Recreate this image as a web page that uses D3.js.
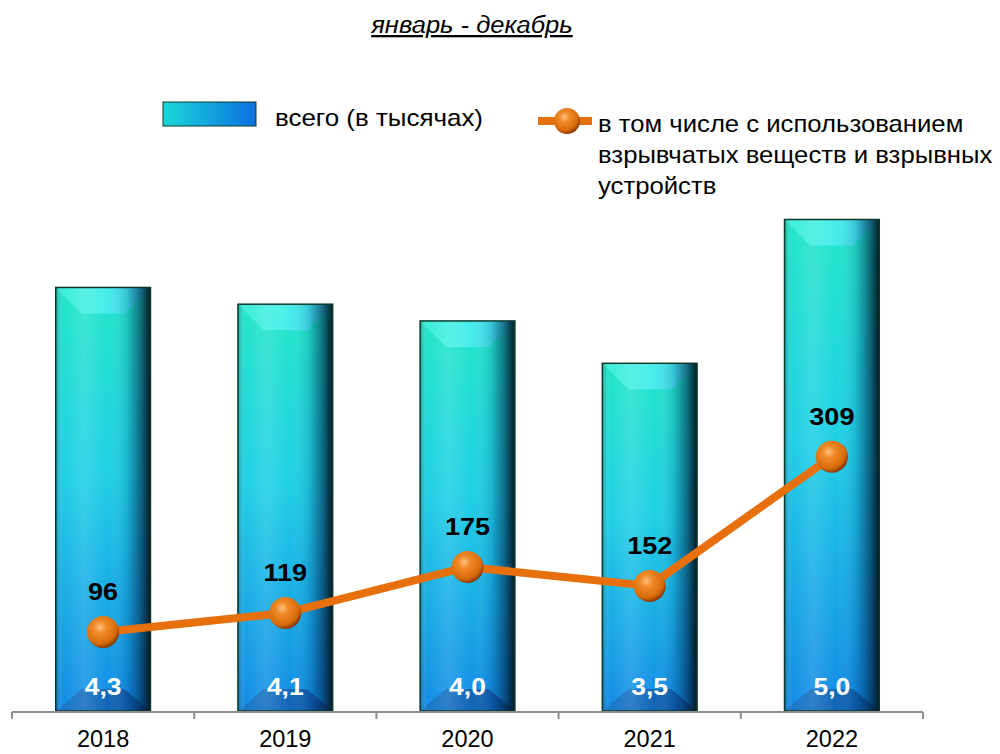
<!DOCTYPE html>
<html><head><meta charset="utf-8">
<script src="https://cdn.jsdelivr.net/npm/d3@7"></script>
<style>body{margin:0;background:#fff}svg{display:block}text{font-family:"Liberation Sans",Arial,sans-serif}</style>
</head><body><svg id="c" width="1000" height="754"></svg>
<script>
const years = ["2018","2019","2020","2021","2022"];
const totals = [4.30, 4.13, 3.96, 3.53, 4.99];
const totalLabels = ["4,3","4,1","4,0","3,5","5,0"];
const explosives = [96, 119, 175, 152, 309];
const title = "январь - декабрь";
const legendBar = "всего (в тысячах)";
const legendLine = ["в том числе с использованием","взрывчатых веществ и взрывных","устройств"];

const svg = d3.select("#c");
const defs = svg.append("defs");
const x = d3.scaleBand().domain(years).range([12, 923]).paddingInner(0.48).paddingOuter(0.24);
const xb = d3.scaleBand().domain(years).range([12, 923]);
const y = d3.scaleLinear().domain([0, 6]).range([711, 120]);
const y2 = d3.scaleLinear().domain([0, 718]).range([711, 120]);

function stretch(sel, k){ sel.each(function(){ const w=this.getComputedTextLength(); d3.select(this).attr("textLength", w*k).attr("lengthAdjust","spacingAndGlyphs"); }); return sel; }

// gradients
const gv = defs.append("linearGradient").attr("id","gv").attr("x1",0).attr("y1",0).attr("x2",0).attr("y2",1);
gv.append("stop").attr("offset","0%").attr("stop-color","#22e6c8");
gv.append("stop").attr("offset","45%").attr("stop-color","#1fcfe6");
gv.append("stop").attr("offset","100%").attr("stop-color","#128ae6");
const gh = defs.append("linearGradient").attr("id","gh").attr("x1",0).attr("y1",0).attr("x2",1).attr("y2",0);
[["0%","#003040",0.35],["8%","#ffffff",0.0],["30%","#ffffff",0.12],["55%","#ffffff",0.0],["75%","#003060",0.15],["90%","#002040",0.6],["100%","#001018",0.95]]
 .forEach(s=>gh.append("stop").attr("offset",s[0]).attr("stop-color",s[1]).attr("stop-opacity",s[2]));
const gt = defs.append("linearGradient").attr("id","gt").attr("x1",0).attr("y1",0).attr("x2",1).attr("y2",0);
gt.append("stop").attr("offset","0%").attr("stop-color","#3ef0d8");
gt.append("stop").attr("offset","50%").attr("stop-color","#50f0f0");
gt.append("stop").attr("offset","100%").attr("stop-color","#38c8f0");
const gb = defs.append("linearGradient").attr("id","gb").attr("x1",0).attr("y1",0).attr("x2",1).attr("y2",0);
gb.append("stop").attr("offset","0%").attr("stop-color","#1a78c8");
gb.append("stop").attr("offset","100%").attr("stop-color","#0a4a98");
const gl = defs.append("linearGradient").attr("id","gl").attr("x1",0).attr("y1",0).attr("x2",1).attr("y2",0);
gl.append("stop").attr("offset","0%").attr("stop-color","#1ad8d8");
gl.append("stop").attr("offset","100%").attr("stop-color","#0a70e0");
const gm = defs.append("radialGradient").attr("id","gm").attr("cx","40%").attr("cy","35%").attr("r","65%");
gm.append("stop").attr("offset","0%").attr("stop-color","#ffc080");
gm.append("stop").attr("offset","30%").attr("stop-color","#f08a28");
gm.append("stop").attr("offset","80%").attr("stop-color","#d86a08");
gm.append("stop").attr("offset","100%").attr("stop-color","#8a3a00");

// title
stretch(svg.append("text").attr("x",472).attr("y",33).attr("text-anchor","middle")
  .attr("font-size",23).attr("font-style","italic").attr("text-decoration","underline").text(title), 1.11);

// bars
const bw = x.bandwidth();
const g = svg.append("g");
years.forEach((yr,i)=>{
  const x0 = x(yr), x1 = x0 + bw, top = y(totals[i]), bot = y(0);
  const bev = 26;
  g.append("rect").attr("x",x0).attr("y",top).attr("width",bw).attr("height",bot-top).attr("fill","url(#gv)");
  g.append("path").attr("d",`M${x0},${top}L${x1},${top}L${x1-bev},${top+bev}L${x0+bev},${top+bev}Z`).attr("fill","url(#gt)").attr("opacity",0.85);
  g.append("path").attr("d",`M${x0},${bot}L${x1},${bot}L${x1-bev},${bot-bev+4}L${x0+bev},${bot-bev+4}Z`).attr("fill","url(#gb)").attr("opacity",0.85);
  g.append("rect").attr("x",x0).attr("y",top).attr("width",bw).attr("height",bot-top).attr("fill","url(#gh)");
  g.append("rect").attr("x",x0).attr("y",top).attr("width",bw).attr("height",bot-top).attr("fill","none").attr("stroke","#0c3a2a").attr("stroke-width",1.5);
  stretch(g.append("text").attr("x",x0+bw/2).attr("y",bot-16).attr("text-anchor","middle").attr("font-size",23).attr("font-weight","bold").attr("fill","#fff").text(totalLabels[i]), 1.15);
});

// axis
const ax = svg.append("g");
ax.append("line").attr("x1",12).attr("x2",923).attr("y1",712).attr("y2",712).attr("stroke","#8c8c8c").attr("stroke-width",2);
years.concat(["end"]).forEach((yr,i)=>{
  const tx = i < years.length ? xb(yr) : 923;
  ax.append("line").attr("x1",tx).attr("x2",tx).attr("y1",712).attr("y2",719).attr("stroke","#8c8c8c").attr("stroke-width",2);
});
years.forEach(yr=>{
  ax.append("text").attr("x",xb(yr)+xb.bandwidth()/2).attr("y",747).attr("text-anchor","middle").attr("font-size",23.5).attr("fill","#000").text(yr);
});

// line
const cx = i => x(years[i]) + bw/2;
svg.append("path").datum(explosives).attr("fill","none").attr("stroke","#e8700c").attr("stroke-width",8).attr("stroke-linejoin","round")
  .attr("d", d3.line().x((d,i)=>cx(i)).y(d=>y2(d)));
explosives.forEach((v,i)=>{
  svg.append("circle").attr("cx",cx(i)).attr("cy",y2(v)).attr("r",16).attr("fill","url(#gm)");
  stretch(svg.append("text").attr("x",cx(i)).attr("y",y2(v)-32).attr("text-anchor","middle").attr("font-size",23.5).attr("font-weight","bold").text(v), 1.15);
});

// legend
svg.append("rect").attr("x",163).attr("y",102).attr("width",93).attr("height",24).attr("fill","url(#gl)").attr("stroke","#0c3a2a").attr("stroke-width",1);
stretch(svg.append("text").attr("x",275).attr("y",126).attr("font-size",24).text(legendBar), 1.08);
svg.append("line").attr("x1",538).attr("x2",592).attr("y1",121).attr("y2",121).attr("stroke","#e8700c").attr("stroke-width",8);
svg.append("circle").attr("cx",567).attr("cy",121).attr("r",13).attr("fill","url(#gm)");
legendLine.forEach((t,i)=>{
  stretch(svg.append("text").attr("x",598).attr("y",132+i*31).attr("font-size",24).text(t), 1.07);
});
</script></body></html>
